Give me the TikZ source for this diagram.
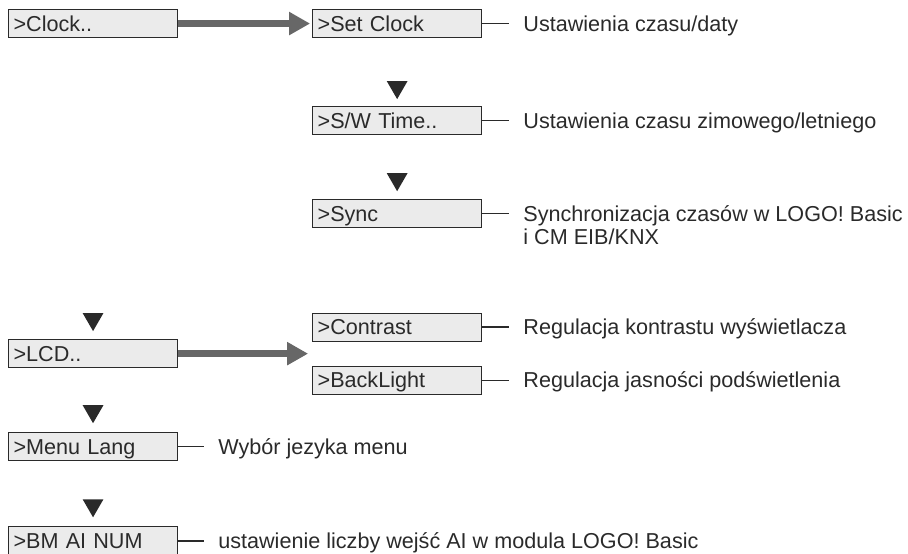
\documentclass[tikz,border=0pt]{standalone}
\usepackage{fontspec}
\setmainfont{Liberation Sans}
\usetikzlibrary{arrows.meta,calc,positioning,shapes.geometric}

\definecolor{boxgrey}{HTML}{EBEBEB}
\definecolor{ink}{HTML}{2A2A2A}
\definecolor{flowgrey}{HTML}{676767}

\begin{document}
\begin{tikzpicture}[
  x=1pt, y=1pt,
  font=\fontsize{21.6}{23}\selectfont,
  text=ink,
  node distance=64pt and 134pt,
  menu/.style={draw=ink, line width=1.1pt, fill=boxgrey, inner xsep=5pt, inner ysep=0pt, text width=159pt, minimum height=28pt, align=left, text height=15pt, text depth=0pt},
  info/.style={inner sep=0pt, text height=15pt, text depth=0pt},
  infoblock/.style={inner sep=0pt, align=left},
  leader/.style={draw=ink, line width=1.4pt, shorten >=14pt},
  navtri/.style={regular polygon, regular polygon sides=3, shape border rotate=180, fill=ink, inner sep=0pt, outer sep=0pt, minimum size=24pt, anchor=corner 1},
  flow/.style={draw=flowgrey, line width=7pt, -{Triangle[length=21pt,width=22pt]}, shorten >=2pt}
]
\useasboundingbox (0,0) rectangle (908,-554);

\node[menu, anchor=north west] (clock) at (8,-9) {>Clock..};
\node[menu, right=of clock] (setclock) {>Set Clock};
\node[menu, below=68pt of setclock] (swtime) {>S/W Time..};
\node[menu, below=of swtime] (sync) {>Sync};
\node[menu, below=301pt of clock] (lcd) {>LCD..};
\coordinate[right=132pt of lcd] (lcdfork);
\node[menu, above right=12pt and 2pt of lcdfork] (contrast) {>Contrast};
\node[menu, below right=12pt and 2pt of lcdfork] (backlight) {>BackLight};
\node[menu, below=of lcd] (menulang) {>Menu Lang};
\node[menu, below=65pt of menulang] (bmainum) {>BM AI NUM};

% navigation keys
\node[navtri] (navsw) at ($(swtime.north)+(0,7)$) {};
\node[navtri] (navsync) at ($(sync.north)+(0,8)$) {};
\node[navtri] (navlcd) at ($(lcd.north)+(0,8)$) {};
\node[navtri] (navlang) at ($(menulang.north)+(0,9)$) {};
\node[navtri] (navbm) at ($(bmainum.north)+(0,9)$) {};

% sub menus
\draw[flow] (clock) -- (setclock);
\draw[flow] (lcd.east) -- (lcdfork);

% descriptions
\node[info, right=41pt of setclock] (setclockinfo) {Ustawienia czasu/daty};
\node[info, right=41pt of swtime] (swinfo) {Ustawienia czasu zimowego/letniego};
\node[infoblock, right=41pt of sync, anchor=north west, yshift=8pt] (syncinfo) {Synchronizacja czasów w LOGO! Basic\\i CM EIB/KNX};
\node[info, right=41pt of contrast] (contrastinfo) {Regulacja kontrastu wyświetlacza};
\node[info, right=41pt of backlight] (backlightinfo) {Regulacja jasności podświetlenia};
\node[info, right=40pt of menulang] (langinfo) {Wybór jezyka menu};
\node[info, right=40pt of bmainum] (bminfo) {ustawienie liczby wejść AI w modula LOGO! Basic};

\draw[leader] (setclock.east) -- (setclockinfo.west);
\draw[leader] (swtime.east) -- (swinfo.west);
\draw[leader] (sync.east) -- (sync.east -| syncinfo.west);
\draw[leader] (contrast.east) -- (contrastinfo.west);
\draw[leader] (backlight.east) -- (backlightinfo.west);
\draw[leader] (menulang.east) -- (langinfo.west);
\draw[leader] (bmainum.east) -- (bminfo.west);
\end{tikzpicture}
\end{document}
